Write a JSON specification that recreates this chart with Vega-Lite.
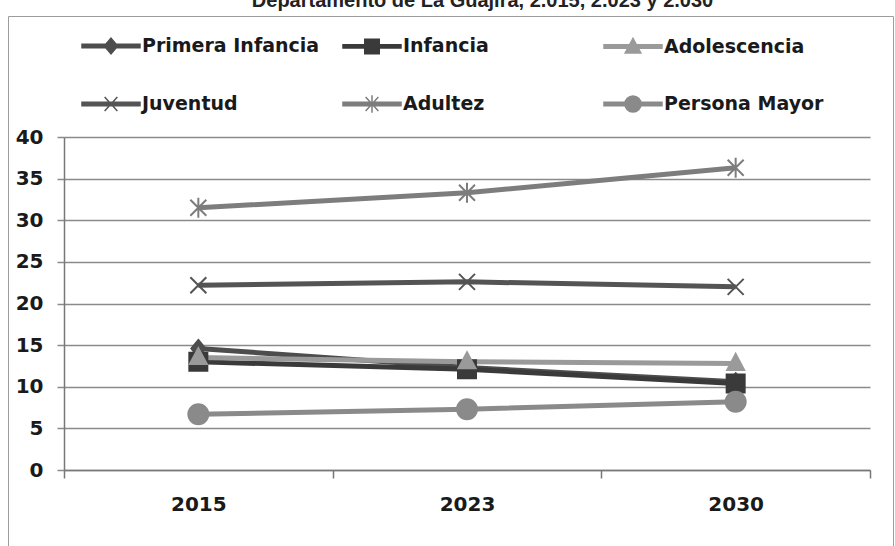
{
  "$schema": "https://vega.github.io/schema/vega-lite/v6.json",
  "width": 885,
  "height": 540,
  "autosize": "none",
  "padding": {"left": 8, "top": 16, "right": 2, "bottom": 0},
  "background": "white",
  "title": {
    "text": "Departamento de La Guajira, 2.015, 2.023 y 2.030",
    "font": "Liberation Sans",
    "fontSize": 20,
    "fontWeight": "bold",
    "color": "#222222",
    "anchor": "middle",
    "baseline": "bottom",
    "offset": 4,
    "dx": 32,
    "dy": 19
  },
  "data": {
    "values": [
      {"grupo": "Primera Infancia", "anio": "2015", "valor": 14.6},
      {"grupo": "Primera Infancia", "anio": "2023", "valor": 12.3},
      {"grupo": "Primera Infancia", "anio": "2030", "valor": 10.6},
      {"grupo": "Infancia", "anio": "2015", "valor": 13.0},
      {"grupo": "Infancia", "anio": "2023", "valor": 12.1},
      {"grupo": "Infancia", "anio": "2030", "valor": 10.4},
      {"grupo": "Adolescencia", "anio": "2015", "valor": 13.5},
      {"grupo": "Adolescencia", "anio": "2023", "valor": 13.0},
      {"grupo": "Adolescencia", "anio": "2030", "valor": 12.8},
      {"grupo": "Juventud", "anio": "2015", "valor": 22.2},
      {"grupo": "Juventud", "anio": "2023", "valor": 22.6},
      {"grupo": "Juventud", "anio": "2030", "valor": 22.0},
      {"grupo": "Adultez", "anio": "2015", "valor": 31.5},
      {"grupo": "Adultez", "anio": "2023", "valor": 33.3},
      {"grupo": "Adultez", "anio": "2030", "valor": 36.3},
      {"grupo": "Persona Mayor", "anio": "2015", "valor": 6.7},
      {"grupo": "Persona Mayor", "anio": "2023", "valor": 7.3},
      {"grupo": "Persona Mayor", "anio": "2030", "valor": 8.2}
    ]
  },
  "encoding": {
    "x": {
      "field": "anio",
      "type": "ordinal",
      "scale": {"type": "band", "domain": ["2015", "2023", "2030"], "range": [56, 862], "paddingInner": 0, "paddingOuter": 0},
      "axis": {
        "orient": "bottom",
        "offset": -86,
        "title": null,
        "grid": false,
        "tickBand": "extent",
        "labelAngle": 0,
        "domainColor": "#777777",
        "domainWidth": 1.5,
        "tickColor": "#777777",
        "tickWidth": 1.5,
        "tickSize": 8,
        "labelFont": "DejaVu Sans",
        "labelFontWeight": "bold",
        "labelFontSize": 20,
        "labelColor": "#1a1a1a",
        "labelPadding": 16
      }
    },
    "y": {
      "field": "valor",
      "type": "quantitative",
      "scale": {"domain": [0, 40], "range": [454, 121], "nice": false},
      "axis": {
        "orient": "left",
        "offset": -56,
        "title": null,
        "values": [0, 5, 10, 15, 20, 25, 30, 35, 40],
        "grid": true,
        "gridColor": "#8a8a8a",
        "gridWidth": 1.5,
        "domainColor": "#777777",
        "domainWidth": 1.5,
        "tickColor": "#8a8a8a",
        "tickWidth": 1.5,
        "tickSize": 7,
        "labelFont": "DejaVu Sans",
        "labelFontWeight": "bold",
        "labelFontSize": 20,
        "labelColor": "#1a1a1a",
        "labelPadding": 14
      }
    },
    "color": {
      "field": "grupo",
      "type": "nominal",
      "scale": {
        "domain": ["Primera Infancia", "Infancia", "Adolescencia", "Juventud", "Adultez", "Persona Mayor"],
        "range": ["#4d4d4d", "#3a3a3a", "#9a9a9a", "#545454", "#7d7d7d", "#8a8a8a"]
      },
      "legend": {
        "orient": "none",
        "legendX": 73,
        "legendY": -0.5,
        "direction": "horizontal",
        "columns": 3,
        "gridAlign": "all",
        "columnPadding": 20,
        "rowPadding": 16.5,
        "padding": 0,
        "title": null,
        "symbolSize": 3364,
        "symbolStrokeWidth": 1.5,
        "labelFont": "DejaVu Sans",
        "labelFontWeight": "bold",
        "labelFontSize": 19,
        "labelColor": "#1a1a1a",
        "labelOffset": 1,
        "labelLimit": 400,
        "encode": {
          "symbols": {
            "update": {
              "shape": {"signal": "datum.value === 'Primera Infancia' ? 'M-1,-0.06H1V0.06H-1Z M0,-0.27L0.23,0L0,0.27L-0.23,0Z' : datum.value === 'Infancia' ? 'M-1,-0.06H1V0.06H-1Z M-0.25,-0.25H0.25V0.25H-0.25Z' : datum.value === 'Adolescencia' ? 'M-1,-0.06H1V0.06H-1Z M0,-0.28L0.27,0.22H-0.27Z' : datum.value === 'Juventud' ? 'M-1,-0.06H1V0.06H-1Z M-0.22,-0.24L0.22,0.24M-0.22,0.24L0.22,-0.24' : datum.value === 'Adultez' ? 'M-1,-0.06H1V0.06H-1Z M-0.22,-0.24L0.22,0.24M-0.22,0.24L0.22,-0.24M0,-0.3V0.3' : 'M-1,-0.06H1V0.06H-1Z M-0.28,0A0.28,0.28 0 1,1 0.28,0A0.28,0.28 0 1,1 -0.28,0Z'"},
              "fill": {"signal": "scale('color', datum.value)"},
              "stroke": {"signal": "scale('color', datum.value)"},
              "strokeWidth": {"value": 1.5},
              "opacity": {"value": 1}
            }
          }
        }
      }
    }
  },
  "layer": [
    {
      "mark": {"type": "line", "strokeWidth": 5}
    },
    {
      "mark": {"type": "point", "filled": true, "size": 400, "strokeWidth": 2, "opacity": 1},
      "encoding": {
        "shape": {
          "field": "grupo",
          "type": "nominal",
          "legend": null,
          "scale": {
            "domain": ["Persona Mayor", "Adultez", "Juventud", "Adolescencia", "Infancia", "Primera Infancia"],
            "range": [
              "M-1,0A1,1 0 1,1 1,0A1,1 0 1,1 -1,0Z",
              "M-0.8,-0.8L0.8,0.8M-0.8,0.8L0.8,-0.8M0,-1V1",
              "M-0.8,-0.8L0.8,0.8M-0.8,0.8L0.8,-0.8",
              "M0,-0.95L0.85,0.65H-0.85Z",
              "M-0.9,-0.9H0.9V0.9H-0.9Z",
              "M0,-0.85L0.7,0L0,0.85L-0.7,0Z"
            ]
          }
        },
        "stroke": {
          "field": "grupo",
          "type": "nominal",
          "legend": null,
          "scale": {
            "domain": ["Adultez", "Persona Mayor", "Primera Infancia", "Infancia", "Adolescencia", "Juventud"],
            "range": ["#7d7d7d", "#8a8a8a", "#4d4d4d", "#3a3a3a", "#9a9a9a", "#545454"]
          }
        }
      }
    }
  ],
  "config": {
    "view": {"stroke": "#9c9c9c", "strokeWidth": 1}
  }
}
